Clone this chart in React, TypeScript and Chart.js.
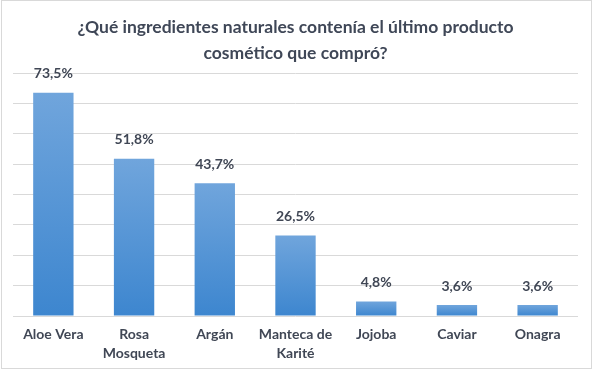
import React, { useEffect, useRef } from "react";
import { Chart, registerables } from "chart.js";

Chart.register(...registerables);

const categories: (string | string[])[] = [
  "Aloe Vera",
  ["Rosa", "Mosqueta"],
  "Argán",
  ["Manteca de", "Karité"],
  "Jojoba",
  "Caviar",
  "Onagra",
];
const values: number[] = [73.5, 51.8, 43.7, 26.5, 4.8, 3.6, 3.6];
const titleLines: string[] = [
  "¿Qué ingredientes naturales contenía el último producto",
  "cosmético que compró?",
];

const fmt = (v: number) => v.toFixed(1).replace(".", ",") + "%";

const labelPlugin = {
  id: "valueLabels",
  afterDatasetsDraw(chart: any) {
    const ctx = chart.ctx;
    const meta = chart.getDatasetMeta(0);
    ctx.save();
    ctx.font = "bold 14px Lato";
    ctx.fillStyle = "#404755";
    ctx.textAlign = "center";
    ctx.textBaseline = "bottom";
    meta.data.forEach((bar: any, i: number) => {
      ctx.fillText(fmt(values[i]), bar.x, bar.y - 12);
    });
    ctx.restore();
  },
};

const borderPlugin = {
  id: "outerBorder",
  beforeDraw(chart: any) {
    const ctx = chart.ctx;
    ctx.save();
    ctx.fillStyle = "#ffffff";
    ctx.fillRect(0, 0, chart.width, chart.height);
    ctx.strokeStyle = "#d9d9d9";
    ctx.lineWidth = 1;
    ctx.strokeRect(1.5, 0.5, chart.width - 3, chart.height - 2);
    ctx.restore();
  },
};

export default function App() {
  const ref = useRef<HTMLCanvasElement>(null);
  useEffect(() => {
    if (!ref.current) return;
    const chart = new Chart(ref.current, {
      type: "bar",
      data: {
        labels: categories,
        datasets: [
          {
            data: values,
            barPercentage: 0.5,
            categoryPercentage: 1,
            backgroundColor: (c: any) => {
              const ch = c.chart;
              if (!ch.chartArea || !ch.scales.y) return "#5b9bd5";
              const top = ch.scales.y.getPixelForValue(c.raw);
              const bottom = ch.scales.y.getPixelForValue(0);
              const g = ch.ctx.createLinearGradient(0, top, 0, bottom);
              g.addColorStop(0, "#70a5dc");
              g.addColorStop(1, "#3d86cf");
              return g;
            },
          },
        ],
      },
      options: {
        animation: false,
        responsive: false,
        maintainAspectRatio: false,
        layout: { padding: { left: 13, right: 15, bottom: 0, top: 0 } },
        plugins: {
          legend: { display: false },
          tooltip: { enabled: false },
          title: {
            display: true,
            text: titleLines,
            color: "#3f4757",
            font: { family: "Lato", size: 17.5, weight: "bold", lineHeight: 1.5 },
            padding: { top: 14, bottom: 6.5 },
          },
        },
        scales: {
          x: {
            grid: { display: false, drawTicks: false, tickLength: 0 },
            border: { display: false },
            afterFit: (scale: any) => {
              scale.height = 54;
            },
            ticks: {
              color: "#404755",
              font: { family: "Lato", size: 14, weight: "bold", lineHeight: 1.35 },
              padding: 9,
              maxRotation: 0,
              autoSkip: false,
            },
          },
          y: {
            min: 0,
            max: 80,
            ticks: { display: false, stepSize: 10 },
            grid: { color: "#d9d9d9", drawTicks: false },
            border: { display: false },
          },
        },
      },
      plugins: [borderPlugin, labelPlugin],
    });
    return () => chart.destroy();
  }, []);
  return (
    <div style={{ position: "fixed", left: 0, top: 0, width: 593, height: 370 }}>
      <canvas ref={ref} width={593} height={370} style={{ width: 593, height: 370 }} />
    </div>
  );
}
